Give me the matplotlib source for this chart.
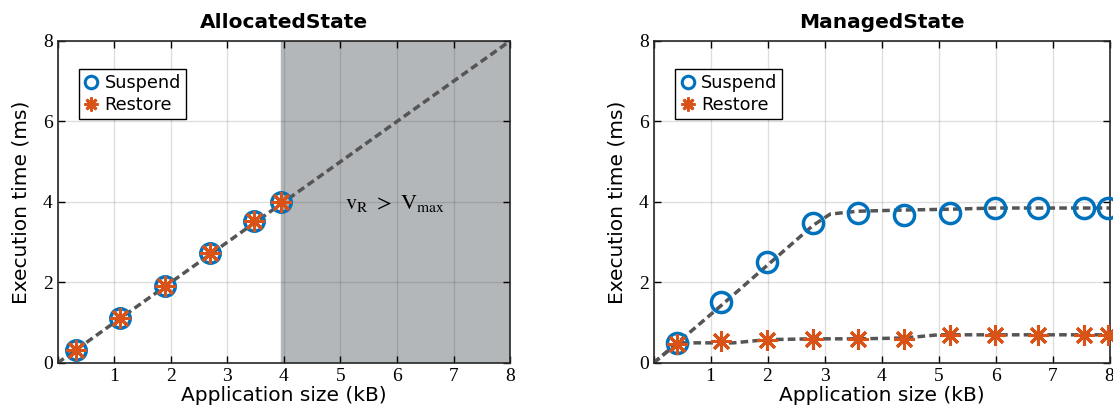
import numpy as np
import matplotlib.pyplot as plt

plt.rcParams['mathtext.fontset'] = 'stix'

# AllocatedState measurements (kB, ms)
alloc_size = [0.33, 1.11, 1.90, 2.69, 3.47, 3.95]
alloc_suspend = [0.33, 1.12, 1.92, 2.72, 3.53, 4.00]
alloc_restore = [0.33, 1.12, 1.92, 2.72, 3.53, 4.00]
alloc_fit_x = [0, 8]
alloc_fit_y = [0, 8]
vmax_size = 3.95

# ManagedState measurements (kB, ms)
managed_size = [0.42, 1.18, 1.99, 2.80, 3.58, 4.39, 5.20, 5.99, 6.75, 7.56, 7.98]
managed_suspend = [0.50, 1.52, 2.50, 3.47, 3.72, 3.68, 3.73, 3.85, 3.85, 3.85, 3.85]
managed_restore = [0.47, 0.55, 0.57, 0.60, 0.60, 0.60, 0.70, 0.70, 0.70, 0.70, 0.70]
suspend_fit_x = [0, 0.42, 1.18, 1.99, 2.80, 3.10, 3.58, 4.39, 5.20, 5.99, 8.0]
suspend_fit_y = [0, 0.50, 1.42, 2.42, 3.42, 3.70, 3.77, 3.80, 3.82, 3.85, 3.85]
restore_fit_x = [0, 0.42, 1.40, 1.99, 2.80, 3.58, 4.39, 5.00, 5.99, 8.0]
restore_fit_y = [0, 0.50, 0.50, 0.58, 0.60, 0.60, 0.62, 0.70, 0.70, 0.70]

blue = '#0072BD'
orange = '#D95319'
asterisk = (8, 2, 0)

fig = plt.figure(figsize=(11.13, 4.19), dpi=100)
ax1 = fig.add_axes([0.0517, 0.1337, 0.4066, 0.7685])
ax2 = fig.add_axes([0.5872, 0.1337, 0.4097, 0.7685])


def style_axes(ax, title):
    ax.set_xlim(0, 8)
    ax.set_ylim(0, 8)
    ax.set_yticks(range(0, 9, 2))
    ax.set_xticks(range(0, 9))
    ax.set_xticklabels([''] + [str(i) for i in range(1, 9)])
    ax.grid(True, color='#262626', alpha=0.15, linewidth=1)
    ax.tick_params(direction='in', top=True, right=True, length=5,
                   labelsize=14, width=1)
    for lab in ax.get_xticklabels() + ax.get_yticklabels():
        lab.set_family('Liberation Serif')
    for sp in ax.spines.values():
        sp.set_linewidth(1.2)
        sp.set_color('#262626')
    ax.set_xlabel('Application size (kB)', fontsize=14.5, labelpad=1)
    ax.set_ylabel('Execution time (ms)', fontsize=14.5, labelpad=9)
    ax.set_title(title, fontsize=14.5, fontweight='bold', pad=9)


def add_legend(ax, h1, h2):
    leg = ax.legend([h1, h2], ['Suspend', 'Restore'], loc='upper left',
                    bbox_to_anchor=(0.0475, 0.913), fontsize=12.7,
                    frameon=True, fancybox=False, framealpha=1,
                    edgecolor='black', handlelength=0.8, handletextpad=0.35,
                    borderpad=0.3, labelspacing=0.2, borderaxespad=0)
    leg.get_frame().set_linewidth(1)


# left panel
ax1.axvspan(vmax_size, 8, color='#b3b7ba', zorder=1)
ax1.plot(alloc_fit_x, alloc_fit_y, '--', color='#555555', linewidth=2.5,
         dashes=(2.2, 1.2), zorder=2)
ax1.plot(alloc_size, alloc_suspend, 'o', markersize=14, mfc='none',
         mec=blue, mew=2.5, linestyle='none', zorder=3)
ax1.plot(alloc_size, alloc_restore, marker=asterisk, markersize=15,
         color=orange, mew=2.2, linestyle='none', zorder=4)
ax1.text(5.96, 3.95, r'$\mathrm{v_R\ >\ V_{max}}$', fontsize=16,
         ha='center', va='center', zorder=5)
style_axes(ax1, 'AllocatedState')
h_s = plt.Line2D([], [], marker='o', markersize=9, mfc='none', mec=blue,
                 mew=2.2, linestyle='none')
h_r = plt.Line2D([], [], marker=asterisk, markersize=10, color=orange,
                 mew=2, linestyle='none')
add_legend(ax1, h_s, h_r)

# right panel
ax2.plot(suspend_fit_x, suspend_fit_y, '--', color='#555555', linewidth=2.5,
         dashes=(2.2, 1.2), zorder=2)
ax2.plot(restore_fit_x, restore_fit_y, '--', color='#555555', linewidth=2.5,
         dashes=(2.2, 1.2), zorder=2)
ax2.plot(managed_size, managed_suspend, 'o', markersize=14.5, mfc='none',
         mec=blue, mew=2.5, linestyle='none', zorder=3, clip_on=False)
ax2.plot(managed_size, managed_restore, marker=asterisk, markersize=15,
         color=orange, mew=2.2, linestyle='none', zorder=4, clip_on=False)
style_axes(ax2, 'ManagedState')
add_legend(ax2, h_s, h_r)

fig.savefig('out.png', dpi=100)
